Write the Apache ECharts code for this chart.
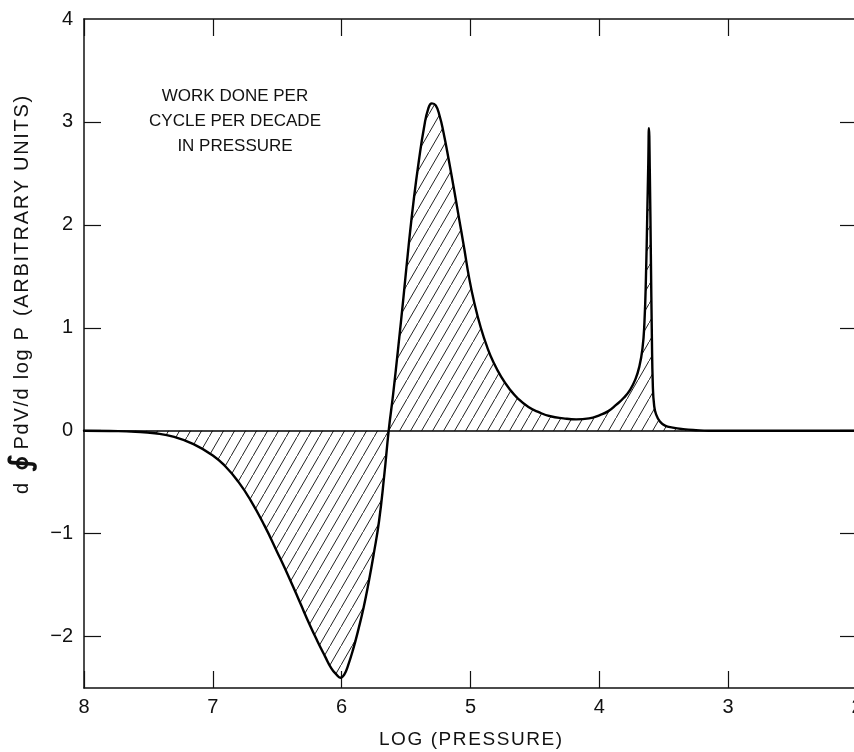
<!DOCTYPE html>
<html>
<head>
<meta charset="utf-8">
<script src="https://cdn.jsdelivr.net/npm/echarts@6/dist/echarts.min.js"></script>
<style>
  html, body { margin: 0; padding: 0; background: #fff; }
  #workChart { width: 854px; height: 752px; }
</style>
</head>
<body>
<div id="workChart"></div>
<script>
// log(pressure) positions and work per decade
var logP = [8.00, 7.80, 7.60, 7.45, 7.30, 7.15, 7.00, 6.90, 6.80, 6.71, 6.60, 6.50, 6.40, 6.32, 6.25, 6.19, 6.13, 6.08, 6.04, 6.01,
  5.98, 5.95, 5.91, 5.87, 5.83, 5.79, 5.75, 5.71, 5.67, 5.635, 5.60, 5.56, 5.52, 5.48, 5.44, 5.40, 5.36, 5.33, 5.30, 5.27,
  5.24, 5.21, 5.17, 5.13, 5.09, 5.05, 5.01, 4.97, 4.92, 4.87, 4.82, 4.76, 4.70, 4.63, 4.55, 4.47, 4.38, 4.28, 4.18, 4.08,
  4.00, 3.93, 3.87, 3.81, 3.76, 3.72, 3.69, 3.665, 3.65, 3.638, 3.628, 3.62, 3.615, 3.608, 3.600, 3.592, 3.585, 3.575, 3.56, 3.53,
  3.49, 3.43, 3.35, 3.25, 3.15, 2.00];
var work = [0, -0.003, -0.01, -0.025, -0.06, -0.13, -0.24, -0.35, -0.50, -0.67, -0.92, -1.18, -1.45, -1.68, -1.88, -2.04, -2.19, -2.31, -2.37, -2.40,
  -2.37, -2.28, -2.12, -1.93, -1.72, -1.47, -1.19, -0.88, -0.44, 0, 0.36, 0.82, 1.30, 1.80, 2.25, 2.63, 2.95, 3.12, 3.18, 3.16,
  3.06, 2.90, 2.64, 2.36, 2.07, 1.78, 1.48, 1.24, 1.00, 0.81, 0.66, 0.52, 0.41, 0.31, 0.23, 0.18, 0.14, 0.12, 0.11, 0.12,
  0.15, 0.19, 0.25, 0.32, 0.40, 0.50, 0.62, 0.80, 1.05, 1.50, 2.10, 2.60, 2.94, 2.50, 1.70, 0.90, 0.45, 0.25, 0.16, 0.09,
  0.05, 0.03, 0.015, 0.005, 0, 0];

var yTicks = [-2, -1, 0, 1, 2, 3];
var yLabels = [-2, -1, 0, 1, 2, 3, 4];
var noteLines = ['WORK DONE PER', 'CYCLE PER DECADE', 'IN PRESSURE'];

var font = 'Liberation Sans';
var ink = '#111';

// widen lettering a little, like the hand-lettered original
function spaced(s) { return s.split('').join('\u200A'); }

// diagonal hatch tile ("/" lines)
function makeHatch() {
  var w = 11, h = 19;
  var c = document.createElement('canvas');
  c.width = w; c.height = h;
  var ctx = c.getContext('2d');
  ctx.strokeStyle = '#222';
  ctx.lineWidth = 1;
  ctx.beginPath();
  ctx.moveTo(-w, 2 * h); ctx.lineTo(2 * w, -h);
  ctx.stroke();
  return c;
}

var points = logP.map(function (x, i) { return [x, work[i]]; });

var chart = echarts.init(document.getElementById('workChart'));

var option = {
  animation: false,
  grid: { left: 84, right: -3, top: 19, bottom: 64, outerBoundsMode: 'none', containLabel: false },
  xAxis: [{
      type: 'value', min: 2, max: 8, interval: 1, inverse: true,
      name: spaced('LOG (PRESSURE)'), nameLocation: 'middle', nameGap: 42,
      nameTextStyle: { fontFamily: font, fontSize: 19, color: ink },
      axisLine: { onZero: false, lineStyle: { color: ink, width: 1.5 } },
      axisTick: { inside: true, length: 17, lineStyle: { color: ink, width: 1.2 } },
      axisLabel: { fontFamily: font, fontSize: 20, color: ink, margin: 9 },
      splitLine: { show: false }
    },
    {
      type: 'value', min: 2, max: 8, interval: 1, inverse: true, position: 'top',
      axisLine: { onZero: false, lineStyle: { color: ink, width: 1.5 } },
      axisTick: { inside: true, length: 17, lineStyle: { color: ink, width: 1.2 } },
      axisLabel: { show: false },
      splitLine: { show: false }
    }
  ],
  yAxis: [{
      type: 'value', min: -2.5, max: 4,
      axisLine: { show: true, onZero: false, lineStyle: { color: ink, width: 1.5 } },
      axisTick: { show: true, inside: true, length: 17, customValues: yTicks, lineStyle: { color: ink, width: 1.2 } },
      axisLabel: {
        fontFamily: font, fontSize: 20, color: ink, margin: 11, customValues: yLabels,
        formatter: function (v) { return String(v).replace('-', '\u2212'); }
      },
      splitLine: { show: false }
    },
    {
      type: 'value', min: -2.5, max: 4, position: 'right',
      axisLine: { show: true, onZero: false, lineStyle: { color: ink, width: 1.5 } },
      axisTick: { show: true, inside: true, length: 17, customValues: yTicks, lineStyle: { color: ink, width: 1.2 } },
      axisLabel: { show: false },
      splitLine: { show: false }
    }
  ],
  graphic: [{
      type: 'text', x: 22, y: 295, rotation: Math.PI / 2,
      style: {
        text: '{t|d}  {s|\u222E} {t|' + spaced('PdV/d log P') + '}  {t|' + spaced('(ARBITRARY UNITS)') + '}',
        rich: {
          t: { fontFamily: font, fontSize: 20, fill: ink },
          s: { fontFamily: 'DejaVu Sans', fontSize: 30, fontWeight: 'bold', fill: ink }
        },
        fontFamily: font, fontSize: 20, fill: ink,
        align: 'center', verticalAlign: 'middle'
      }
    },
    {
      type: 'text', x: 235, y: 84,
      style: {
        text: noteLines.join('\n'),
        fontFamily: font, fontSize: 17, fill: ink, lineHeight: 25,
        align: 'center', verticalAlign: 'top'
      }
    }
  ],
  series: [{
    type: 'line',
    data: points,
    showSymbol: false,
    smooth: 0.5,
    lineStyle: { color: '#000', width: 2.4, join: 'round', cap: 'round' },
    areaStyle: { color: { image: makeHatch(), repeat: 'repeat' }, opacity: 1 },
    markLine: {
      silent: true, symbol: 'none', label: { show: false },
      lineStyle: { color: '#000', width: 1.5, type: 'solid' },
      data: [{ yAxis: 0 }]
    },
    z: 3
  }]
};

chart.setOption(option);
</script>
</body>
</html>
